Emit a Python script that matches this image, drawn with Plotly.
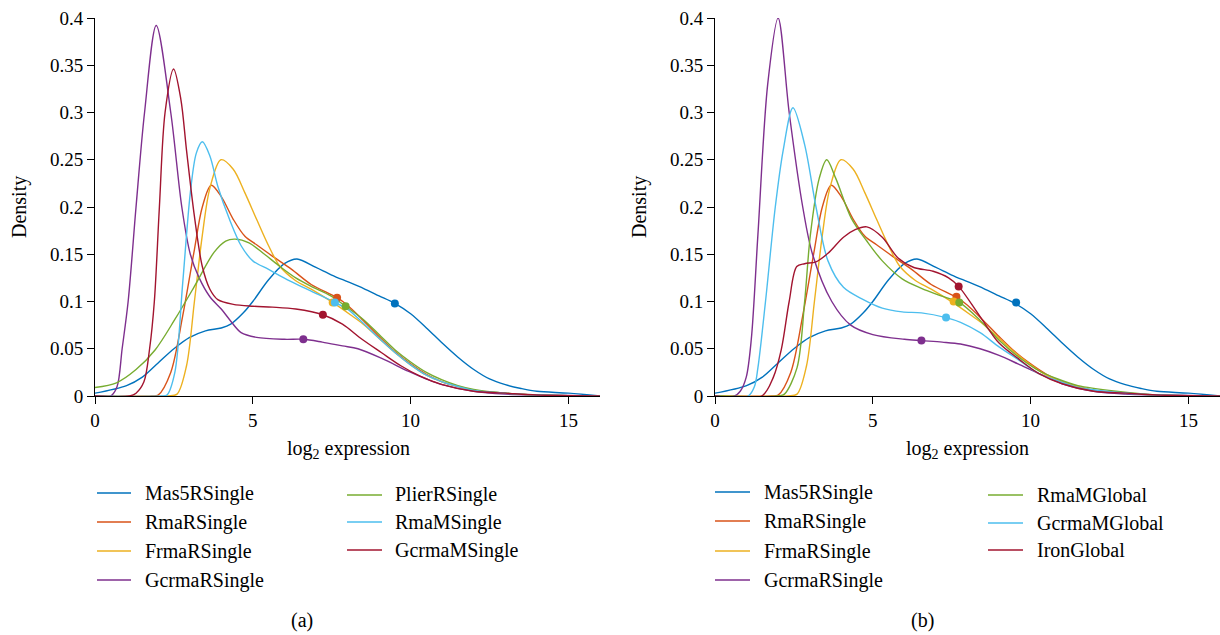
import plotly.graph_objects as go

W, H = 1220, 635
FONT = "Liberation Serif"

# ---------------- data: panel (a) ----------------
MAS5_X = [0, 1, 1.5, 2, 2.5, 3, 3.5, 4, 4.3, 4.7, 5, 5.5, 6, 6.4, 7, 7.5, 8, 8.5, 9, 9.5, 10, 10.5, 11, 11.5, 12, 12.5, 13, 13.5, 14, 15, 16]
MAS5_Y = [0.003, 0.011, 0.02, 0.035, 0.05, 0.062, 0.069, 0.072, 0.076, 0.088, 0.1, 0.123, 0.14, 0.145, 0.136, 0.128, 0.121, 0.114, 0.106, 0.098, 0.087, 0.072, 0.056, 0.041, 0.028, 0.018, 0.012, 0.008, 0.005, 0.003, 0.0]

RMA_X = [0, 1.8, 2.0, 2.4, 2.78, 3.15, 3.4, 3.68, 4.0, 4.38, 4.75, 5.12, 5.62, 6.23, 6.85, 7.67, 8.0, 8.5, 9, 9.5, 10, 10.5, 11, 11.5, 12, 13, 14, 16]
RMA_Y = [0, 0, 0.001, 0.025, 0.085, 0.155, 0.2, 0.223, 0.211, 0.187, 0.169, 0.16, 0.148, 0.134, 0.118, 0.104, 0.096, 0.08, 0.063, 0.047, 0.034, 0.023, 0.015, 0.01, 0.006, 0.003, 0.001, 0]

FRMA_X = [0, 2.3, 2.6, 2.9, 3.15, 3.4, 3.64, 3.99, 4.38, 4.75, 5.12, 5.5, 5.86, 6.36, 6.85, 7.53, 8.09, 8.5, 9, 9.5, 10, 10.5, 11, 11.5, 12, 13, 14, 16]
FRMA_Y = [0, 0, 0.002, 0.032, 0.1, 0.17, 0.22, 0.25, 0.24, 0.215, 0.187, 0.159, 0.137, 0.122, 0.113, 0.099, 0.086, 0.076, 0.061, 0.046, 0.033, 0.022, 0.015, 0.01, 0.006, 0.003, 0.001, 0]

A_GCR_X = [0, 0.5, 0.7, 0.86, 1.05, 1.3, 1.57, 1.94, 2.4, 2.75, 3.02, 3.3, 3.64, 4.0, 4.26, 4.63, 5.12, 6.0, 6.6, 7.2, 7.84, 8.33, 9.07, 9.94, 10.5, 11, 12, 13, 14, 16]
A_GCR_Y = [0, 0, 0.01, 0.05, 0.1, 0.2, 0.3, 0.392, 0.3, 0.2, 0.15, 0.125, 0.105, 0.092, 0.081, 0.067, 0.062, 0.06, 0.06, 0.057, 0.053, 0.05, 0.04, 0.026, 0.018, 0.012, 0.005, 0.002, 0.001, 0]

PLIER_X = [0, 0.68, 1.3, 1.91, 2.53, 3.15, 3.77, 4.14, 4.44, 4.88, 5.37, 5.86, 6.36, 6.85, 7.47, 7.94, 8.5, 9, 9.5, 10, 10.5, 11, 11.5, 12, 13, 14, 16]
PLIER_Y = [0.009, 0.014, 0.028, 0.049, 0.081, 0.116, 0.152, 0.164, 0.166, 0.162, 0.15, 0.137, 0.125, 0.116, 0.106, 0.095, 0.081, 0.065, 0.049, 0.036, 0.025, 0.017, 0.011, 0.007, 0.003, 0.001, 0]

RMAM_X = [0, 2.1, 2.28, 2.53, 2.78, 3.02, 3.21, 3.4, 3.64, 3.89, 4.26, 4.63, 5.0, 5.5, 6.1, 6.85, 7.6, 8.0, 8.5, 9, 9.5, 10, 10.5, 11, 11.5, 12, 13, 14, 16]
RMAM_Y = [0, 0, 0.001, 0.025, 0.12, 0.215, 0.257, 0.269, 0.254, 0.222, 0.187, 0.159, 0.143, 0.134, 0.123, 0.111, 0.099, 0.092, 0.077, 0.061, 0.046, 0.033, 0.022, 0.015, 0.01, 0.006, 0.003, 0.001, 0]

GCRM_X = [0, 1.1, 1.3, 1.55, 1.73, 1.88, 2.04, 2.22, 2.49, 2.72, 2.9, 3.15, 3.4, 3.64, 3.89, 4.38, 5.0, 5.62, 6.36, 7.22, 7.84, 8.46, 9.07, 9.69, 10.3, 11, 12, 13, 14, 16]
GCRM_Y = [0, 0, 0.003, 0.015, 0.05, 0.1, 0.2, 0.3, 0.346, 0.314, 0.26, 0.19, 0.137, 0.113, 0.102, 0.097, 0.095, 0.094, 0.092, 0.086, 0.076, 0.06, 0.046, 0.032, 0.021, 0.012, 0.005, 0.003, 0.001, 0]

# ---------------- data: panel (b) ----------------
B_GCR_X = [0, 0.62, 0.8, 0.99, 1.15, 1.36, 1.67, 2.0, 2.35, 2.78, 3.09, 3.7, 4.3, 5.0, 6.0, 6.54, 7.2, 7.78, 8.4, 9.0, 9.6, 10.25, 11, 12, 13, 14, 16]
B_GCR_Y = [0, 0, 0.005, 0.02, 0.06, 0.171, 0.33, 0.40, 0.3, 0.2, 0.15, 0.1, 0.075, 0.065, 0.06, 0.0586, 0.057, 0.055, 0.05, 0.043, 0.034, 0.024, 0.013, 0.005, 0.002, 0.001, 0]

GCRMG_X = [0, 1.05, 1.25, 1.36, 1.6, 1.91, 2.16, 2.47, 2.84, 3.2, 3.58, 4.07, 4.7, 5.3, 5.93, 6.54, 7.32, 7.78, 8.4, 9.0, 9.63, 10.25, 10.86, 11.5, 12.7, 14, 16]
GCRMG_Y = [0, 0, 0.01, 0.03, 0.1, 0.2, 0.26, 0.305, 0.266, 0.2, 0.143, 0.115, 0.102, 0.093, 0.089, 0.088, 0.083, 0.078, 0.067, 0.052, 0.038, 0.024, 0.016, 0.009, 0.004, 0.001, 0]

RMAMG_X = [0, 2.0, 2.2, 2.6, 2.84, 3.02, 3.3, 3.54, 3.83, 4.32, 4.81, 5.3, 5.93, 6.54, 7.16, 7.74, 8.4, 9.0, 9.63, 10.25, 10.86, 11.5, 12.7, 14, 16]
RMAMG_Y = [0, 0, 0.002, 0.03, 0.1, 0.17, 0.23, 0.25, 0.23, 0.188, 0.164, 0.143, 0.124, 0.114, 0.106, 0.099, 0.08, 0.059, 0.041, 0.027, 0.018, 0.011, 0.005, 0.001, 0]

IRON_X = [0, 1.48, 1.85, 2.1, 2.35, 2.59, 2.84, 3.2, 3.58, 4.07, 4.44, 4.81, 5.3, 5.8, 6.3, 6.91, 7.4, 7.72, 8.4, 9.0, 9.63, 10.25, 11, 12, 13, 14, 16]
IRON_Y = [0, 0, 0.02, 0.049, 0.1, 0.137, 0.14, 0.142, 0.151, 0.168, 0.176, 0.179, 0.168, 0.146, 0.136, 0.132, 0.125, 0.116, 0.084, 0.056, 0.039, 0.024, 0.013, 0.005, 0.003, 0.001, 0]

# marker points (median positions)
A_NAMES = ["Mas5RSingle", "RmaRSingle", "FrmaRSingle", "GcrmaRSingle", "PlierRSingle", "RmaMSingle", "GcrmaMSingle"]
A_MARK_X = [9.5, 7.67, 7.53, 6.6, 7.94, 7.6, 7.22]
A_MARK_Y = [0.098, 0.104, 0.099, 0.06, 0.095, 0.099, 0.086]

B_NAMES = ["Mas5RSingle", "RmaRSingle", "FrmaRSingle", "GcrmaRSingle", "RmaMGlobal", "GcrmaMGlobal", "IronGlobal"]
B_MARK_X = [9.54, 7.65, 7.56, 6.54, 7.74, 7.32, 7.72]
B_MARK_Y = [0.099, 0.105, 0.1, 0.0586, 0.099, 0.083, 0.116]

COLORS = ["#0072BD", "#D95319", "#EDB120", "#7E2F8E", "#77AC30", "#4DBEEE", "#A2142F"]

A_CURVES = [(MAS5_X, MAS5_Y), (RMA_X, RMA_Y), (FRMA_X, FRMA_Y), (A_GCR_X, A_GCR_Y),
            (PLIER_X, PLIER_Y), (RMAM_X, RMAM_Y), (GCRM_X, GCRM_Y)]
B_CURVES = [(MAS5_X, MAS5_Y), (RMA_X, RMA_Y), (FRMA_X, FRMA_Y), (B_GCR_X, B_GCR_Y),
            (RMAMG_X, RMAMG_Y), (GCRMG_X, GCRMG_Y), (IRON_X, IRON_Y)]

Y_TICKS = [0, 0.05, 0.1, 0.15, 0.2, 0.25, 0.3, 0.35, 0.4]
Y_TICKTEXT = ["0", "0.05", "0.1", "0.15", "0.2", "0.25", "0.3", "0.35", "0.4"]
X_TICKS = [0, 5, 10, 15]

fig = go.Figure()

def add_panel(curves, mx, my, names, xa, ya):
    for (xs, ys), c, n in zip(curves, COLORS, names):
        fig.add_trace(go.Scatter(x=xs, y=ys, mode="lines", name=n, showlegend=False,
                                 line=dict(color=c, width=1.4, shape="spline", smoothing=0.9),
                                 xaxis=xa, yaxis=ya, hoverinfo="skip"))
    for x, y, c in zip(mx, my, COLORS):
        fig.add_trace(go.Scatter(x=[x], y=[y], mode="markers", showlegend=False,
                                 marker=dict(color=c, size=8), xaxis=xa, yaxis=ya))

add_panel(A_CURVES, A_MARK_X, A_MARK_Y, A_NAMES, "x", "y")
add_panel(B_CURVES, B_MARK_X, B_MARK_Y, B_NAMES, "x2", "y2")

def px(v):
    return v / W

def py(v):
    return 1 - v / H

ydom = [py(396), py(18)]
axis_common = dict(showline=True, linecolor="black", linewidth=1, ticks="outside",
                   ticklen=7, tickcolor="black", showgrid=False, zeroline=False,
                   automargin=False,
                   tickfont=dict(family=FONT, size=19, color="black"))

fig.update_layout(
    width=W, height=H, margin=dict(l=0, r=0, t=0, b=0, autoexpand=False),
    paper_bgcolor="white", plot_bgcolor="white", showlegend=False,
    xaxis=dict(domain=[px(95), px(600)], range=[0, 16], tickvals=X_TICKS, anchor="y", **axis_common),
    yaxis=dict(domain=ydom, range=[0, 0.4], tickvals=Y_TICKS, ticktext=Y_TICKTEXT, anchor="x", **axis_common),
    xaxis2=dict(domain=[px(715), px(1220)], range=[0, 16], tickvals=X_TICKS, anchor="y2", **axis_common),
    yaxis2=dict(domain=ydom, range=[0, 0.4], tickvals=Y_TICKS, ticktext=Y_TICKTEXT, anchor="x2", **axis_common),
)

ann = []
shapes = []
tf = dict(family=FONT, size=20, color="black")

def text_at(x, y, t, xanchor="center", yanchor="middle", angle=0):
    ann.append(dict(x=px(x), y=py(y), xref="paper", yref="paper", text=t, textangle=angle,
                    xanchor=xanchor, yanchor=yanchor, showarrow=False, font=tf))

for cx_lab, cx_dens in [(348, 20), (967, 640)]:
    text_at(cx_dens, 207, "Density", angle=-90)
    text_at(cx_lab, 449, "log<sub>2</sub> expression")

text_at(302, 620, "(a)")
text_at(922, 620, "(b)")

def legend(names, col1_line, col1_text, col2_line, col2_text, rows1, rows2):
    for i, (n, c) in enumerate(zip(names, COLORS)):
        if i < 4:
            l0, l1 = col1_line
            tx = col1_text
            yy = rows1[i]
        else:
            l0, l1 = col2_line
            tx = col2_text
            yy = rows2[i - 4]
        shapes.append(dict(type="line", xref="paper", yref="paper", x0=px(l0), x1=px(l1),
                           y0=py(yy), y1=py(yy), line=dict(color=c, width=1.6)))
        text_at(tx, yy, n, xanchor="left")

legend(A_NAMES, (97, 131), 143, (347, 382), 393, [493, 522, 551, 580], [495, 522, 550])
legend(B_NAMES, (715, 750), 762, (988, 1023), 1035, [492, 521, 551, 580], [495, 523, 550])

fig.update_layout(annotations=ann, shapes=shapes)
fig.write_html("out.html")
